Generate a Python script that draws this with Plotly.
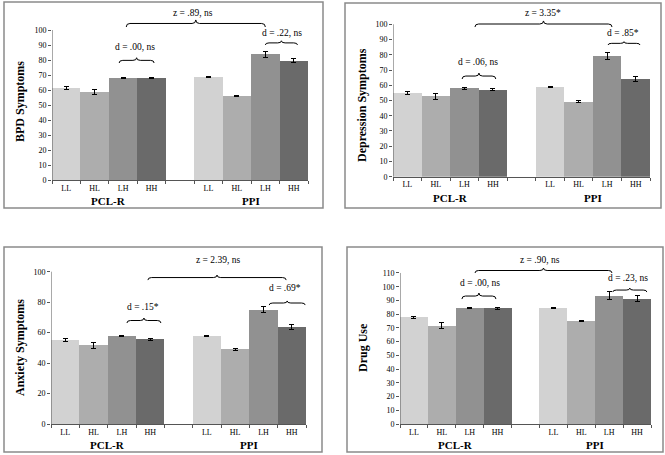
import plotly.graph_objects as go

W, H = 665, 455

# ---------------- data ----------------
levels = ["LL", "HL", "LH", "HH"]
groups = ["PCL-R", "PPI"]
bar_colors = ["#d2d2d2", "#adadad", "#919191", "#6a6a6a"]

titles = ["BPD Symptoms", "Depression Symptoms", "Anxiety Symptoms", "Drug Use"]

bpd_pclr = [61.2, 58.6, 68.1, 67.9]
bpd_pclr_err = [0.9, 1.8, 0.5, 0.5]
bpd_ppi = [68.8, 56.0, 83.8, 79.6]
bpd_ppi_err = [0.4, 0.5, 2.0, 1.3]

dep_pclr = [55.0, 52.7, 58.0, 57.1]
dep_pclr_err = [1.0, 2.0, 0.5, 0.7]
dep_ppi = [58.9, 49.2, 79.2, 63.9]
dep_ppi_err = [0.3, 0.5, 2.2, 1.6]

anx_pclr = [55.1, 51.6, 57.8, 55.6]
anx_pclr_err = [0.8, 1.9, 0.4, 0.6]
anx_ppi = [57.8, 49.0, 75.1, 63.7]
anx_ppi_err = [0.3, 0.5, 2.0, 1.6]

drug_pclr = [77.7, 71.6, 84.5, 84.3]
drug_pclr_err = [0.8, 2.2, 0.5, 0.7]
drug_ppi = [84.7, 75.0, 93.5, 91.3]
drug_ppi_err = [0.4, 0.7, 3.0, 2.0]

pcl_labels = ["d = .00, ns", "d = .06, ns", "d = .15*", "d = .00, ns"]
ppi_labels = ["d = .22, ns", "d = .85*", "d = .69*", "d = .23, ns"]
z_labels = ["z = .89, ns", "z = 3.35*", "z = 2.39, ns", "z = .90, ns"]

series = [
    (bpd_pclr, bpd_pclr_err, bpd_ppi, bpd_ppi_err),
    (dep_pclr, dep_pclr_err, dep_ppi, dep_ppi_err),
    (anx_pclr, anx_pclr_err, anx_ppi, anx_ppi_err),
    (drug_pclr, drug_pclr_err, drug_ppi, drug_ppi_err),
]
y_max = [100, 100, 100, 110]
y_step = [10, 10, 20, 10]

# ---------------- layout geometry (pixels) ----------------
panels = [
    dict(x0=52, x1=308, base=180.0, top=5, ppu=1.50, frame=(4, 2, 323, 208), title=(20, 102)),
    dict(x0=393, x1=650, base=176.7, top=5, ppu=1.524, frame=(345, 3, 661, 208), title=(362, 105)),
    dict(x0=51, x1=306, base=424.0, top=250, ppu=1.523, frame=(4, 247, 322, 452), title=(20, 348)),
    dict(x0=400, x1=651, base=424.0, top=250, ppu=1.373, frame=(347, 247, 663, 452), title=(363, 348)),
]
# braces: (x_start, x_end, y_ends, y_tip, text_x, text_y) in data units
braces = [
    [(1.86, 3.09, 78.0, 81.5, 2.42, 88.7), (2.11, 7.0, 102.0, 106.7, 4.46, 111.3), (7.0, 8.13, 90.0, 92.8, 7.6, 98.0)],
    [(1.92, 3.10, 64.1, 68.0, 2.48, 75.3), (2.37, 7.17, 98.2, 102.2, 4.75, 107.4), (7.03, 8.15, 86.4, 88.6, 7.56, 94.3)],
    [(2.18, 3.38, 66.3, 69.6, 2.75, 76.8), (2.92, 7.80, 94.5, 97.8, 5.4, 107.7), (7.20, 8.47, 78.1, 80.8, 7.76, 89.3)],
    [(1.72, 2.94, 91.0, 95.4, 2.37, 102.7), (2.19, 7.10, 110.0, 113.6, 4.52, 119.4), (7.13, 8.35, 96.1, 99.0, 7.67, 106.3)],
]

FONT = "Liberation Serif"
xpos = [0, 1, 2, 3, 5, 6, 7, 8]


def brace_path(x0, x1, ye, yt):
    xm = (x0 + x1) / 2
    ym = (ye + yt) / 2
    r = 0.13
    return (f"M {x0},{ye} Q {x0},{ym} {x0 + r},{ym} L {xm - r},{ym} "
            f"Q {xm},{ym} {xm},{yt} Q {xm},{ym} {xm + r},{ym} "
            f"L {x1 - r},{ym} Q {x1},{ym} {x1},{ye}")


fig = go.Figure()
shapes = []
annotations = []
layout_axes = {}

for i, (p, (pc, pce, pp, ppe)) in enumerate(zip(panels, series)):
    n = "" if i == 0 else str(i + 1)
    xa, ya = "x" + n, "y" + n
    fig.add_trace(go.Bar(
        x=xpos, y=pc + pp,
        width=1.0,
        marker=dict(color=bar_colors * 2, line=dict(width=0)),
        error_y=dict(type="data", array=pce + ppe, color="black", thickness=1, width=2.5),
        xaxis=xa, yaxis=ya, showlegend=False, hoverinfo="skip",
    ))
    ymax_range = (p["base"] - p["top"]) / p["ppu"]
    layout_axes["xaxis" + n] = dict(
        domain=[p["x0"] / W, p["x1"] / W], range=[-0.5, 8.5], anchor=ya,
        tickmode="array", tickvals=xpos, ticktext=levels * 2, ticks="",
        showline=True, linecolor="#555555", linewidth=1, showgrid=False, zeroline=False,
        tickfont=dict(family=FONT, size=8, color="black"), automargin=False,
        minor=dict(tickmode="array", tickvals=[v - 0.5 for v in range(10)],
                   ticks="outside", ticklen=3, tickcolor="#555555", tickwidth=1, showgrid=False),
        fixedrange=True,
    )
    layout_axes["yaxis" + n] = dict(
        domain=[1 - p["base"] / H, 1 - p["top"] / H], range=[0, ymax_range], anchor=xa,
        tickmode="array", tickvals=list(range(0, y_max[i] + 1, y_step[i])),
        ticks="outside", ticklen=3, tickcolor="#555555", showline=False, showgrid=False,
        zeroline=False, tickfont=dict(family=FONT, size=8, color="black"), fixedrange=True,
        automargin=False,
    )
    # y axis line only up to the top tick
    shapes.append(dict(type="line", xref=xa, yref=ya, x0=-0.5, x1=-0.5, y0=0, y1=y_max[i],
                       line=dict(color="#555555", width=1)))
    # panel frame
    fx0, fy0, fx1, fy1 = p["frame"]
    shapes.append(dict(type="rect", xref="paper", yref="paper",
                       x0=fx0 / W, x1=fx1 / W, y0=1 - fy1 / H, y1=1 - fy0 / H,
                       line=dict(color="#8a8a8a", width=1.5)))
    # title
    tx, ty = p["title"]
    annotations.append(dict(text="<b>%s</b>" % titles[i], xref="paper", yref="paper",
                            x=tx / W, y=1 - ty / H, xanchor="center", yanchor="middle",
                            textangle=-90, showarrow=False,
                            font=dict(family=FONT, size=12, color="black")))
    # group labels
    for gx, g in zip([1.5, 6.5], groups):
        annotations.append(dict(text="<b>%s</b>" % g, xref=xa, yref=ya, x=gx, y=0,
                                xanchor="center", yanchor="middle", yshift=-21, showarrow=False,
                                font=dict(family=FONT, size=11, color="black")))
    # braces
    for (bx0, bx1, ye, yt, txx, tyy), lab in zip(braces[i], [pcl_labels[i], z_labels[i], ppi_labels[i]]):
        shapes.append(dict(type="path", xref=xa, yref=ya, path=brace_path(bx0, bx1, ye, yt),
                           line=dict(color="black", width=1)))
        annotations.append(dict(text=lab, xref=xa, yref=ya, x=txx, y=tyy, showarrow=False,
                                xanchor="center", yanchor="middle",
                                font=dict(family=FONT, size=9.5, color="black")))

fig.update_layout(
    template="none",
    width=W, height=H, margin=dict(l=0, r=0, t=0, b=0, pad=0),
    paper_bgcolor="white", plot_bgcolor="white",
    bargap=0, shapes=shapes, annotations=annotations, **layout_axes,
)

fig.write_html("out.html", config={"displayModeBar": False, "staticPlot": True},
               post_script="document.body.style.margin='0px';document.body.style.overflow='hidden';")
